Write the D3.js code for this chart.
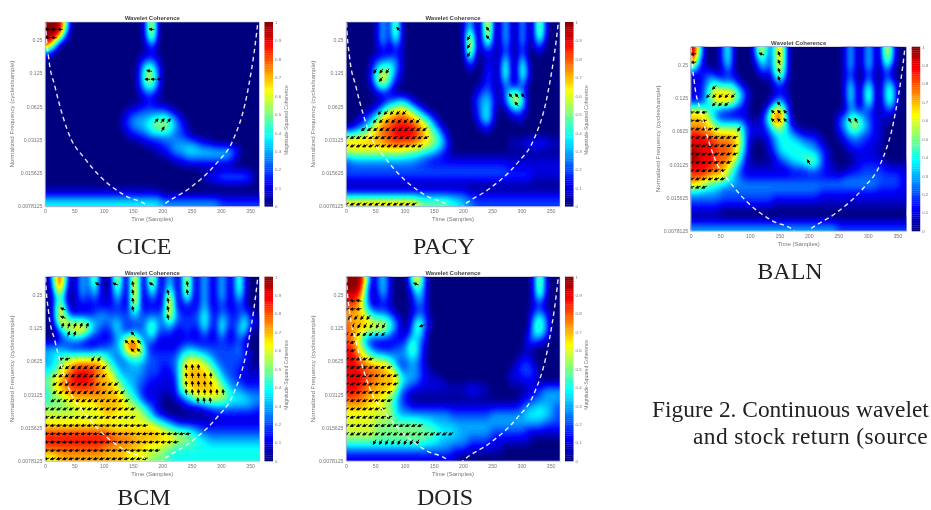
<!DOCTYPE html>
<html>
<head>
<meta charset="utf-8">
<script src="https://cdn.jsdelivr.net/npm/d3@7"></script>
<style>
  body { margin: 0; background: #fff; overflow: hidden; }
  svg { display: block; }
  text { font-family: "Liberation Sans", sans-serif; fill: #777; }
  .caption { font-family: "Liberation Serif", serif; fill: #222; }
</style>
</head>
<body>
<div id="chart"></div>
<script>
// tick labels
var timeTicks = [0, 50, 100, 150, 200, 250, 300, 350];
var freqTicks = [0.25, 0.125, 0.0625, 0.03125, 0.015625, 0.0078125];
var colorTicks = [0, 0.1, 0.2, 0.3, 0.4, 0.5, 0.6, 0.7, 0.8, 0.9, 1];

// cone of influence (time, octaves above 0.0078125)
var coiTimes = [0, 1, 6, 17, 45, 65, 94, 139, 173, 187, 202, 247, 293, 321, 344, 361, 366];
var coiOctaves = [6, 5.5, 4.5, 3.6, 2.0, 1.5, 0.9, 0.3, 0.04, -0.2, 0.04, 0.55, 1.3, 2.0, 3.3, 5.2, 6];

// coherence, top row first, one digit = tenths (a = 1.0)
var ciceRows = [
  "aaa6000000 0000000280 0000000000 0000000",
  "aaa2000000 0000000280 0000000000 0000000",
  "a700000000 0000000140 0000000000 0000000",
  "3000000000 0000000010 0000000000 0000000",
  "0000000000 0000001221 0000000000 0000000",
  "0000000000 0000002552 0000000000 0000000",
  "0000000000 0000002662 0000000000 0000000",
  "0000000000 0000002552 0000000000 0000000",
  "0000000000 0000001221 0000000000 0000000",
  "0000000000 0000000110 0000000000 0000000",
  "0000000000 0000112222 2100000000 0000000",
  "0000000000 0001233344 5431000000 0000000",
  "0000000000 0001233456 6532100000 0000000",
  "0000000000 0000112233 3322100000 0000000",
  "0000000000 0000000111 2233332110 0000000",
  "0000000000 0000000001 1233444444 4431000",
  "0000000000 0000000000 0011222222 2210000",
  "0000000000 0000000000 0000000000 0000000",
  "0000000000 0000000000 0000000122 3333320",
  "0000000000 0000000000 0000000000 0000000",
  "1111111111 1111111111 0000000000 0000000",
  "4444444444 4444444444 3333333333 2222222"
];
var pacyRows = [
  "0000014071 0000000000 1401910410 4017100",
  "0000014071 0000000000 1701810410 4017100",
  "0000014041 0000000000 0a01610410 4014000",
  "0000001011 0000000000 0801110210 2001000",
  "0000122331 0000000000 0500110510 5000000",
  "0000145531 0000000000 0100210610 6100000",
  "0000267521 0000000000 0000210610 6100000",
  "0000146310 0000000000 0001210310 3000000",
  "0000011100 0000000000 0012310256 2000000",
  "0000001234 3100000000 0023420257 5000000",
  "0000124667 6531000000 0013410023 2000000",
  "0012357788 8765310000 0013510001 1000000",
  "0123578899 9987531000 0001200000 0000000",
  "5566778899 9987653100 0000000000 0000000",
  "7777777888 8877654200 0000000011 1222211",
  "6666666666 5554432100 0000000000 0000000",
  "2333333333 3322111111 1111111111 1111111",
  "2222222222 2222222222 2222222211 1111111",
  "2222222222 2222222222 2222222222 2211111",
  "0000000000 0000000000 0000000000 0000000",
  "2222222222 2222222222 2111111111 1111111",
  "7777777777 7765555544 3322222222 2222222"
];
var balnRows = [
  "a500025000 0571581000 0000001401 4108300",
  "9300025000 0351581000 0000001401 4107300",
  "5110014000 0141571000 0000001401 4104100",
  "0123111100 0010461000 0000001200 2002000",
  "1124534310 0000120000 0000001501 5104400",
  "1136777642 0000111000 0000001502 6104500",
  "1125777631 0000231000 0000001501 6104500",
  "6653322111 0003772000 0000000312 2102200",
  "7775211111 0025993000 0000023553 2111000",
  "7776555552 1113663100 0000023664 3110000",
  "9988777762 1112344321 1100012332 2110000",
  "9999888762 0001344443 3210001222 1110000",
  "a999888752 0001244444 3321000111 1100000",
  "a999888641 0000123445 6521000011 1110000",
  "9998876421 1111111222 3321100112 2221111",
  "8887775321 1111111111 1111112222 2222221",
  "7654433333 3333333333 3333333333 3322221",
  "3333322222 2222222222 2211111111 1111111",
  "2222222222 2222111111 1111111111 1111111",
  "1111100000 0000000000 0000000000 0000000",
  "0000000000 0000000000 0000000000 0000000",
  "3333333333 3333333333 3333322222 2222222"
];
var bcmRows = [
  "04a4014171 0181191181 1411811411 4116100",
  "02a2014151 0161191161 1511811411 4116100",
  "0151013131 1141191131 1911611411 4114100",
  "0183011111 1121181111 1911111411 2112100",
  "0184111123 3222242222 3832122521 3212310",
  "0167666533 2342222353 2522222521 5222521",
  "0025577532 1242122362 2211211411 5114400",
  "0012332111 1134883231 1111111111 2112100",
  "3332111112 2335997211 1112332222 2223100",
  "3445555555 4323455322 2224555432 2222210",
  "3356788888 6432333222 1225777653 2222100",
  "4567899987 7643333222 1125777765 3221111",
  "5678999987 7754332211 1115777776 4322111",
  "4677888888 7775432111 1115677777 6433222",
  "4556777777 7776542111 0012356666 6544433",
  "5555566667 7777665321 0000111233 3333332",
  "6666666666 7766666531 1000000001 1111111",
  "6666666666 6666666665 4321111111 1111111",
  "8888888888 8777777777 6655543222 2222222",
  "9999999999 9988877777 7766554433 3333333",
  "8888888888 7777777666 5544444444 4444444",
  "6677777777 7777666655 5444444444 4444444"
];
var doisRows = [
  "aaa6024100 0582000000 0000000000 0017100",
  "aaa3024100 0252000000 0000000000 0017100",
  "9974013100 0142000000 0000000000 0015100",
  "8873111100 0122000000 0000000000 0011000",
  "7776433210 0122000000 0000000000 0024200",
  "8777666531 0263100000 0000000000 0045300",
  "8776666421 0352000000 0000000000 0045300",
  "8752111111 2432000000 0000000000 0232100",
  "9864211122 3631000000 0000000000 0100000",
  "9976544333 3431000000 0000000000 1100000",
  "9988777631 2321000000 0000000001 2210000",
  "9998887773 3331100000 0000000011 2220000",
  "9998877775 3321111000 0000000011 1110000",
  "9988777762 2111111111 1221100000 0112333",
  "8887776542 1000000000 0000000000 1122333",
  "7777666542 2111111111 1111111111 2334332",
  "6666666643 3333333322 2222233333 3444432",
  "6666655555 5554433333 3333333333 3333222",
  "6666655555 5555554443 3333322222 2111111",
  "5555555555 5555443333 3222211111 1100000",
  "3333333333 3333333322 2111111000 0000000",
  "1111111111 1111111110 0000000000 0000000"
];

// phase arrows: [quarter-octave row, first time, last time, direction in degrees]
var ciceArrows = [
  [21, 5, 26, 180], [20, 5, 16, 180], [21, 182, 182, 170],
  [16, 178, 178, 170], [15, 175, 196, 180], [10, 190, 212, 50], [9, 201, 201, 60]
];
var pacyArrows = [
  [0, 1, 125, 205], [7, 1, 135, 205], [8, 1, 143, 205], [9, 30, 143, 215],
  [10, 50, 132, 225], [11, 58, 103, 225], [16, 50, 72, 235], [15, 60, 60, 235],
  [21, 90, 90, 135], [20, 210, 210, 240], [19, 210, 210, 240], [18, 210, 210, 240],
  [21, 243, 243, 130], [20, 243, 243, 130], [13, 282, 303, 130], [12, 292, 292, 130]
];
var balnArrows = [
  [5, 2, 25, 200], [6, 2, 55, 200], [7, 2, 55, 200], [8, 2, 70, 200], [9, 2, 84, 200],
  [10, 2, 84, 200], [11, 2, 84, 200], [12, 2, 45, 200], [12, 82, 82, 240],
  [13, 2, 25, 190], [14, 2, 25, 190], [16, 30, 72, 225], [15, 40, 67, 225], [17, 40, 40, 225],
  [15, 150, 150, 135], [14, 140, 161, 135], [13, 140, 161, 135],
  [21, 150, 150, 110], [20, 150, 150, 110], [19, 150, 150, 110], [18, 150, 150, 110],
  [21, 120, 120, 160], [21, 5, 5, 190], [20, 5, 5, 190],
  [8, 200, 200, 120], [13, 270, 281, 120]
];
var bcmArrows = [
  [0, 3, 173, 195], [1, 3, 196, 190], [2, 3, 227, 190], [3, 3, 247, 190], [4, 3, 176, 190],
  [5, 3, 160, 200], [6, 3, 153, 205], [7, 14, 145, 210], [8, 17, 133, 215], [9, 17, 122, 215],
  [10, 17, 111, 215], [11, 28, 105, 215], [12, 28, 45, 200], [12, 82, 102, 240],
  [11, 241, 271, 95], [10, 241, 283, 95], [9, 241, 290, 95], [8, 241, 312, 95], [7, 261, 290, 95],
  [16, 30, 72, 70], [15, 40, 60, 70], [18, 31, 31, 160], [17, 31, 31, 160],
  [15, 150, 150, 135], [14, 140, 161, 135], [13, 150, 161, 135],
  [21, 150, 150, 100], [20, 150, 150, 100], [19, 150, 150, 100], [18, 150, 150, 100],
  [21, 90, 90, 150], [21, 120, 120, 160], [21, 182, 182, 150],
  [20, 210, 210, 100], [19, 210, 210, 100], [18, 210, 210, 100], [17, 210, 210, 100],
  [21, 243, 243, 100], [20, 243, 243, 100]
];
var doisArrows = [
  [4, 1, 135, 200], [3, 1, 183, 210], [2, 49, 123, 240], [5, 1, 78, 200], [6, 1, 72, 200],
  [7, 1, 75, 200], [8, 1, 83, 200], [9, 1, 92, 200], [10, 1, 92, 200], [11, 1, 83, 200],
  [12, 1, 44, 200], [13, 1, 18, 200], [14, 1, 21, 200], [15, 1, 64, 225], [16, 12, 72, 240],
  [17, 7, 44, 230], [18, 1, 30, 190], [19, 1, 32, 170], [16, 130, 130, 200], [21, 120, 120, 160]
];

// panel placement on the page
var panels = [
  {name: 'CICE', rows: ciceRows, arrows: ciceArrows, x: 45, y: 22, w: 214.5, cap: [144, 254]},
  {name: 'PACY', rows: pacyRows, arrows: pacyArrows, x: 346, y: 22, w: 214, cap: [444, 254]},
  {name: 'BALN', rows: balnRows, arrows: balnArrows, x: 690.7, y: 46.7, w: 216, cap: [790, 279]},
  {name: 'BCM', rows: bcmRows, arrows: bcmArrows, x: 45, y: 276.7, w: 214.5, cap: [144, 505]},
  {name: 'DOIS', rows: doisRows, arrows: doisArrows, x: 346, y: 276.7, w: 214, cap: [445, 505]}
];
var plotHeight = 184.3;
var nCols = 37, nRows = 22;
var sub = 4; // each read cell is split this many times before d3.blur2 softens it
var arrowStep = 10.5;

var svg = d3.select('#chart').append('svg').attr('width', 931).attr('height', 510);
var defs = svg.append('defs');
defs.append('filter').attr('id', 'soft').append('feGaussianBlur').attr('stdDeviation', 0.5);

// jet colormap
var jet = d3.scaleLinear()
  .domain([0, 0.125, 0.375, 0.5, 0.625, 0.875, 1])
  .range(['#00007f', '#0000ff', '#00ffff', '#7fff7f', '#ffff00', '#ff0000', '#7f0000'])
  .clamp(true);

var thresholds = d3.range(0.015, 1.001, 0.015);
var charts = svg.append('g').attr('filter', 'url(#soft)');

panels.forEach(function(p, idx) {
  var g = charts.append('g').attr('transform', `translate(${p.x},${p.y})`);

  var xScale = d3.scaleLinear().domain([0, 366]).range([0, p.w]);
  var yScale = d3.scaleLog().base(2).domain([0.0078125, 0.364]).range([plotHeight, 0]);
  var gridX = d3.scaleLinear().domain([0, nCols * sub]).range([0, p.w]);
  var gridY = d3.scaleLinear().domain([0, nRows * sub]).range([0, plotHeight]);

  // digit rows -> finer grid
  var values = [];
  p.rows.forEach(function(r) {
    var cells = r.replace(/ /g, '').split('').map(c => c === 'a' ? 1 : +c / 10);
    d3.range(sub).forEach(function() {
      cells.forEach(function(v) {
        d3.range(sub).forEach(function() { values.push(v); });
      });
    });
  });
  var grid = {data: values, width: nCols * sub, height: nRows * sub};
  d3.blur2(grid, 2);

  var clipId = 'clip' + idx;
  defs.append('clipPath').attr('id', clipId).append('rect')
    .attr('width', p.w).attr('height', plotHeight);

  var plot = g.append('g').attr('clip-path', `url(#${clipId})`);
  plot.append('rect').attr('width', p.w).attr('height', plotHeight).attr('fill', jet(0));

  var contours = d3.contours().size([nCols * sub, nRows * sub]).thresholds(thresholds)(grid.data);
  var path = d3.geoPath(d3.geoTransform({
    point: function(x, y) { this.stream.point(gridX(x), gridY(y)); }
  }));
  plot.append('g')
    .selectAll('path').data(contours).enter().append('path')
    .attr('d', path)
    .attr('fill', d => jet(d.value));

  // arrows
  var arrowData = [];
  p.arrows.forEach(function(a) {
    d3.range(a[1], a[2] + 0.1, arrowStep).forEach(function(t) {
      arrowData.push({t: t, level: a[0], angle: a[3]});
    });
  });
  plot.append('g').selectAll('path').data(arrowData).enter().append('path')
    .attr('d', 'M-2.7,0L0.5,0M2.7,0L0,-1.2L0,1.2Z')
    .attr('transform', d => `translate(${xScale(d.t)},${yScale(0.0078125 * Math.pow(2, 0.07 + d.level / 4))}) rotate(${-d.angle})`)
    .attr('stroke', '#000').attr('stroke-width', 0.8).attr('fill', '#000');

  // cone of influence
  var coiLine = d3.line()
    .x(d => xScale(d))
    .y((d, i) => yScale(0.0078125 * Math.pow(2, coiOctaves[i])))
    .curve(d3.curveMonotoneX);
  plot.append('path').datum(coiTimes)
    .attr('d', coiLine)
    .attr('fill', 'none').attr('stroke', '#fff')
    .attr('stroke-width', 1.4).attr('stroke-dasharray', '4.5 3.5').attr('opacity', 0.9);

  // axes
  var xAxis = g.append('g').attr('transform', `translate(0,${plotHeight})`)
    .call(d3.axisBottom(xScale).tickValues(timeTicks).tickSize(0).tickPadding(3));
  var yAxis = g.append('g')
    .call(d3.axisLeft(yScale).tickValues(freqTicks).tickFormat(String).tickSize(0).tickPadding(2.5));
  [xAxis, yAxis].forEach(function(ax) {
    ax.selectAll('text').attr('font-size', 5.2).style('font-family', '"Liberation Sans", sans-serif');
    ax.select('.domain').attr('stroke', '#aab').attr('stroke-width', 0.6);
  });

  g.append('rect').attr('width', p.w).attr('height', plotHeight)
    .attr('fill', 'none').attr('stroke', '#c4c8dd').attr('stroke-width', 0.6);

  g.append('text').attr('x', p.w / 2).attr('y', -2.2)
    .attr('text-anchor', 'middle').attr('font-size', 6).attr('font-weight', 'bold')
    .style('fill', '#444').text('Wavelet Coherence');
  g.append('text').attr('x', p.w / 2).attr('y', plotHeight + 15)
    .attr('text-anchor', 'middle').attr('font-size', 6).text('Time (Samples)');
  g.append('text').attr('transform', `translate(-31,${plotHeight / 2}) rotate(-90)`)
    .attr('text-anchor', 'middle').attr('font-size', 6.2).text('Normalized Frequency  (cycles/sample)');

  // colorbar
  var cbar = g.append('g').attr('transform', `translate(${p.w + 5},0)`);
  var cScale = d3.scaleLinear().domain([0, 1]).range([plotHeight, 0]);
  cbar.selectAll('rect').data(d3.range(0, 1, 0.01)).enter().append('rect')
    .attr('y', d => cScale(d + 0.01))
    .attr('width', 8.5)
    .attr('height', plotHeight / 100 + 0.3)
    .attr('fill', d => jet(d));
  var cAxis = cbar.append('g').attr('transform', 'translate(8.5,0)')
    .call(d3.axisRight(cScale).tickValues(colorTicks).tickFormat(String).tickSize(0).tickPadding(2));
  cAxis.selectAll('text').attr('font-size', 4.4).style('font-family', '"Liberation Sans", sans-serif');
  cAxis.select('.domain').remove();
  // the BALN panel's colour label falls off the right of the page in the reference
  if (p.name !== 'BALN') {
    cbar.append('text').attr('transform', `translate(23,${plotHeight / 2 + 6}) rotate(-90)`)
      .attr('text-anchor', 'middle').attr('font-size', 5).text('Magnitude-Squared Coherence');
  }

  svg.append('text').attr('class', 'caption')
    .attr('x', p.cap[0]).attr('y', p.cap[1])
    .attr('text-anchor', 'middle').attr('font-size', 24).text(p.name);
});

svg.append('text').attr('class', 'caption').attr('x', 652).attr('y', 417)
  .attr('font-size', 23.4).text('Figure 2. Continuous wavelet');
svg.append('text').attr('class', 'caption').attr('x', 693).attr('y', 444)
  .attr('font-size', 23.4).attr('letter-spacing', 0.4).text('and stock return (source');
</script>
</body>
</html>
